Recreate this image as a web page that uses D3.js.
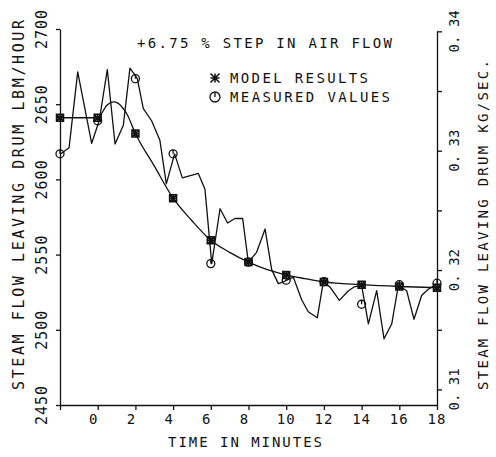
<!DOCTYPE html>
<html>
<head>
<meta charset="utf-8">
<script src="https://cdn.jsdelivr.net/npm/d3@7"></script>
<style>
  body { margin: 0; background: #fff; }
  text { font-family: "DejaVu Sans Mono", monospace; fill: #111; }
</style>
</head>
<body>
<div class="container"></div>
<script>
// time in minutes, steam flow lbm/hour
const modelTimes = [-2, 0, 0.5, 0.85, 1.3, 1.55, 2, 3, 4, 5, 6, 7, 8, 9, 10, 11, 12, 14, 16, 18]
const modelValues = [2641, 2641, 2649.5, 2651.5, 2648, 2643.5, 2630.5, 2609, 2587.5, 2572.5, 2559.5, 2551.5, 2545, 2540, 2536.5, 2534, 2531.8, 2530, 2528.8, 2528]

const markerTimes = [-2, 0, 2, 4, 6, 8, 10, 12, 14, 16, 18]
const modelMarkers = [2641, 2641, 2630.5, 2587.5, 2559.5, 2545, 2536.5, 2531.8, 2530, 2528.8, 2528]
const measuredMarkers = [2617, 2639, 2667, 2617, 2544, 2545, 2533, 2532, 2517, 2530, 2531]

const traceTimes = [-1.95, -1.52, -1.06, -0.32, 0.08, 0.51, 0.92, 1.36, 1.71, 2.0, 2.1, 2.42, 2.86, 3.3, 3.64, 4.08, 4.49, 5.34, 5.69, 6.05,
    6.49, 6.89, 7.28, 7.69, 7.99, 8.43, 8.88, 9.23, 9.58, 9.85, 10.03, 10.38, 10.82, 11.17, 11.65, 11.97, 12.32, 12.82, 13.3, 13.6,
    14.0, 14.36, 14.8, 15.19, 15.6, 15.95, 16.39, 16.78, 17.19, 17.54, 18.0]
const traceValues = [2617, 2621, 2671.5, 2624, 2639, 2673, 2623.5, 2636, 2674, 2669, 2667, 2647, 2639, 2626, 2597, 2617, 2601, 2604, 2593.5, 2544,
    2580.5, 2571, 2574, 2574, 2545, 2551.5, 2567, 2540, 2530.7, 2531.8, 2533, 2535, 2520, 2512, 2508, 2532, 2528.5, 2519.6, 2526, 2528.5,
    2529.5, 2504, 2526, 2494, 2504, 2529.6, 2526, 2507, 2523, 2527, 2530.5]

const xTicks = [-2, 0, 2, 4, 6, 8, 10, 12, 14, 16, 18]
const yTicks = [2450, 2500, 2550, 2600, 2650, 2700]
const kgTicks = [0.31, 0.315, 0.32, 0.325, 0.33, 0.335, 0.34]
const kgLabels = [0.31, 0.32, 0.33, 0.34]
const K = 0.000125998 // lbm/hour -> kg/sec

const svg = d3.select('.container')
    .append('svg')
    .attr('width', 496)
    .attr('height', 457)

const x = d3.scaleLinear().domain([-2, 18]).range([60, 437])
const y = d3.scaleLinear().domain([2450, 2700]).range([405, 29])
const yR = d3.scaleLinear().domain([2450 * K, 0.34]).range([405, y(0.34 / K)])

const ink = '#111'

// axes
const xAxis = svg.append('g')
    .attr('transform', 'translate(0,405)')
    .call(d3.axisBottom(x).tickValues(xTicks).tickSize(5).tickSizeOuter(0).tickFormat(''))
const yAxis = svg.append('g')
    .attr('transform', 'translate(60,0)')
    .call(d3.axisLeft(y).tickValues(yTicks).tickSize(4).tickSizeOuter(0).tickFormat(''))
const rAxis = svg.append('g')
    .attr('transform', 'translate(437,0)')
    .call(d3.axisRight(yR).tickValues(kgTicks).tickSize(5).tickSizeOuter(0).tickFormat(''))

svg.selectAll('.domain, .tick line').attr('stroke', ink).attr('stroke-width', 1.3)

svg.append('g').selectAll('text')
    .data(xTicks.filter(d => d >= 0))
    .join('text')
    .attr('x', d => x(d) + (d < 10 ? -4 : 0))
    .attr('y', 424)
    .attr('text-anchor', 'middle')
    .attr('font-size', 14)
    .attr('letter-spacing', 1)
    .text(d => d)

svg.append('g').selectAll('text')
    .data(yTicks)
    .join('text')
    .attr('transform', d => `translate(47,${y(d)}) rotate(-90)`)
    .attr('text-anchor', 'middle')
    .attr('font-size', 15)
    .attr('letter-spacing', 1)
    .text(d => d)

svg.append('g').selectAll('text')
    .data(kgLabels)
    .join('text')
    .attr('transform', d => `translate(459,${yR(d)}) rotate(-90)`)
    .attr('text-anchor', 'middle')
    .attr('font-size', 14)
    .text(d => '0. ' + d.toFixed(2).slice(2))

// axis titles
svg.append('text')
    .attr('x', 168).attr('y', 447)
    .attr('font-size', 14)
    .attr('textLength', 154).attr('lengthAdjust', 'spacing')
    .text('TIME IN MINUTES')

svg.append('text')
    .attr('transform', 'translate(24,205) rotate(-90)')
    .attr('text-anchor', 'middle')
    .attr('font-size', 15)
    .attr('textLength', 370).attr('lengthAdjust', 'spacing')
    .text('STEAM FLOW LEAVING DRUM LBM/HOUR')

svg.append('text')
    .attr('transform', 'translate(488,225) rotate(-90)')
    .attr('text-anchor', 'middle')
    .attr('font-size', 14)
    .attr('textLength', 330).attr('lengthAdjust', 'spacing')
    .text('STEAM FLOW LEAVING DRUM KG/SEC.')

// lines
const model = modelTimes.map((t, i) => ({ t, v: modelValues[i] }))
const trace = traceTimes.map((t, i) => ({ t, v: traceValues[i] }))

svg.append('path')
    .datum(model)
    .attr('fill', 'none')
    .attr('stroke', ink)
    .attr('stroke-width', 1.3)
    .attr('d', d3.line().x(d => x(d.t)).y(d => y(d.v)).curve(d3.curveMonotoneX))

svg.append('path')
    .datum(trace)
    .attr('fill', 'none')
    .attr('stroke', ink)
    .attr('stroke-width', 1.3)
    .attr('stroke-linejoin', 'round')
    .attr('d', d3.line().x(d => x(d.t)).y(d => y(d.v)))

// markers
const star = (g, s, box) => {
    g.append('path')
        .attr('d', `M${-s},0H${s}M0,${-s}V${s}M${-s},${-s}L${s},${s}M${-s},${s}L${s},${-s}` +
            (box ? `M${-s},${-s}H${s}V${s}H${-s}Z` : ''))
        .attr('fill', 'none')
        .attr('stroke', ink)
        .attr('stroke-width', 1.5)
}
const ring = (g, r) => {
    g.append('circle').attr('r', r).attr('fill', 'none').attr('stroke', ink).attr('stroke-width', 1.3)
    g.append('path').attr('d', `M0,${-r}V0`).attr('stroke', ink).attr('stroke-width', 1.3)
}

svg.append('g').selectAll('g')
    .data(markerTimes.map((t, i) => ({ t, v: measuredMarkers[i] })))
    .join('g')
    .attr('transform', d => `translate(${x(d.t)},${y(d.v)})`)
    .each(function () { ring(d3.select(this), 4) })

svg.append('g').selectAll('g')
    .data(markerTimes.map((t, i) => ({ t, v: modelMarkers[i] })))
    .join('g')
    .attr('transform', d => `translate(${x(d.t)},${y(d.v)})`)
    .each(function () { star(d3.select(this), 3.5, true) })

// title and legend
svg.append('text')
    .attr('x', 137).attr('y', 48)
    .attr('font-size', 14)
    .attr('textLength', 255).attr('lengthAdjust', 'spacing')
    .text('+6.75 % STEP IN AIR FLOW')

star(svg.append('g').attr('transform', 'translate(215,78)'), 4.5, false)
ring(svg.append('g').attr('transform', 'translate(215,97)'), 5)

svg.append('text')
    .attr('x', 230).attr('y', 83)
    .attr('font-size', 14)
    .attr('textLength', 138).attr('lengthAdjust', 'spacing')
    .text('MODEL RESULTS')

svg.append('text')
    .attr('x', 230).attr('y', 102)
    .attr('font-size', 14)
    .attr('textLength', 160).attr('lengthAdjust', 'spacing')
    .text('MEASURED VALUES')
</script>
</body>
</html>
